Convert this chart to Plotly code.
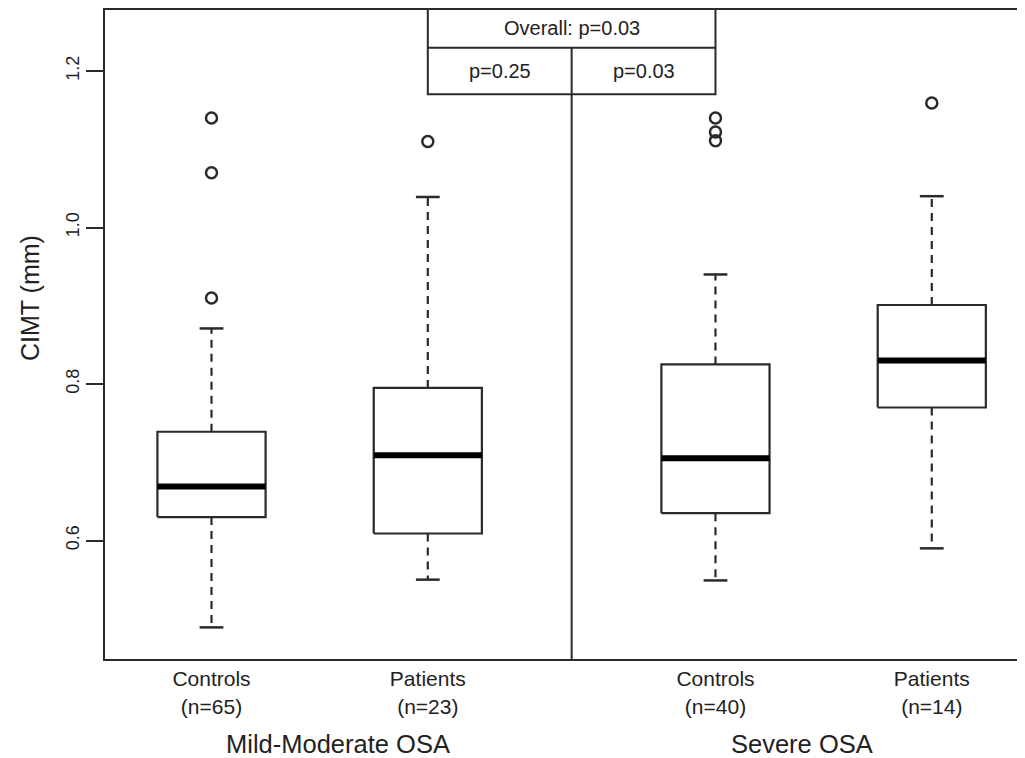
import plotly.graph_objects as go

# ---- data ----
groups = ["Mild-Moderate OSA", "Severe OSA"]
categories = ["Controls", "Patients", "Controls", "Patients"]
n_values = [65, 23, 40, 14]
q1 = [0.630, 0.609, 0.635, 0.770]
median = [0.669, 0.709, 0.705, 0.830]
q3 = [0.739, 0.795, 0.825, 0.901]
lower_whisker = [0.489, 0.550, 0.549, 0.590]
upper_whisker = [0.871, 1.039, 0.940, 1.040]
outliers = [[1.140, 1.070, 0.910], [1.110], [1.140, 1.122, 1.111], [1.159]]
p_overall = "0.03"
p_group = ["0.25", "0.03"]
y_ticks = [0.6, 0.8, 1.0, 1.2]

# ---- layout positions ----
positions = [1, 2, 3.33, 4.33]
group_label_x = [1.585, 3.73]
divider_x = 2.665
half_w = 0.25
cap_w = 0.055

FONT = "Liberation Sans, Arial, Helvetica, sans-serif"
LINE = "#2a2a2a"

fig = go.Figure()

for i, x in enumerate(positions):
    # box outline
    fig.add_trace(go.Scatter(
        x=[x - half_w, x + half_w, x + half_w, x - half_w, x - half_w],
        y=[q1[i], q1[i], q3[i], q3[i], q1[i]],
        mode="lines", line=dict(color=LINE, width=2.2),
        fill="toself", fillcolor="white", hoverinfo="skip", showlegend=False))
    # median
    fig.add_trace(go.Scatter(
        x=[x - half_w, x + half_w], y=[median[i], median[i]],
        mode="lines", line=dict(color="black", width=6),
        hoverinfo="skip", showlegend=False))
    # whiskers
    fig.add_trace(go.Scatter(
        x=[x, x, None, x, x],
        y=[q3[i], upper_whisker[i], None, q1[i], lower_whisker[i]],
        mode="lines", line=dict(color=LINE, width=2.2, dash="8px,6px"),
        hoverinfo="skip", showlegend=False))
    # caps
    fig.add_trace(go.Scatter(
        x=[x - cap_w, x + cap_w, None, x - cap_w, x + cap_w],
        y=[upper_whisker[i], upper_whisker[i], None, lower_whisker[i], lower_whisker[i]],
        mode="lines", line=dict(color=LINE, width=2.5),
        hoverinfo="skip", showlegend=False))
    # outliers
    fig.add_trace(go.Scatter(
        x=[x] * len(outliers[i]), y=outliers[i],
        mode="markers",
        marker=dict(symbol="circle-open", size=11, color=LINE, line=dict(width=2.5)),
        hoverinfo="skip", showlegend=False))

ticktext = [f"{c}<br>(n={n})" for c, n in zip(categories, n_values)]

# the page body adds an 8px offset, so the figure is 8px smaller than the window
fig.update_layout(
    width=1017, height=750,
    margin=dict(l=97, r=0, t=0, b=99),
    paper_bgcolor="white", plot_bgcolor="white",
    font=dict(family=FONT, color="#222"),
    xaxis=dict(range=[0.5076, 4.761], tickvals=positions, ticktext=ticktext,
               tickfont=dict(size=21), ticks="", showgrid=False, zeroline=False,
               showline=True, linecolor=LINE, linewidth=2, fixedrange=True),
    yaxis=dict(range=[0.4486, 1.2805], tickvals=y_ticks,
               ticktext=[f"{v:.1f}" for v in y_ticks],
               tickangle=-90, tickfont=dict(size=18), ticks="outside", ticklen=17,
               tickwidth=2, tickcolor=LINE, showgrid=False, zeroline=False,
               showline=True, linecolor=LINE, linewidth=2, fixedrange=True),
)

top_y = 1 - 1.0 / 651
# top frame line
fig.add_shape(type="line", xref="paper", yref="paper", x0=0, x1=1, y0=top_y, y1=top_y,
              line=dict(color=LINE, width=2))
# divider between groups
table_mid = 0.939
table_bottom = 0.8674
fig.add_shape(type="line", xref="x", yref="paper", x0=divider_x, x1=divider_x,
              y0=0, y1=table_mid, line=dict(color=LINE, width=2))
# p-value table
fig.add_shape(type="rect", xref="x", yref="paper", x0=positions[1], x1=positions[2],
              y0=table_bottom, y1=top_y, line=dict(color=LINE, width=2))
fig.add_shape(type="line", xref="x", yref="paper", x0=positions[1], x1=positions[2],
              y0=table_mid, y1=table_mid, line=dict(color=LINE, width=2))

fig.add_annotation(x=divider_x, xref="x", y=(1 + table_mid) / 2, yref="paper",
                   text=f"Overall: p={p_overall}", showarrow=False,
                   font=dict(size=20), xanchor="center", yanchor="middle")
cells = [(positions[1] + divider_x) / 2, (divider_x + positions[2]) / 2]
for cx, p in zip(cells, p_group):
    fig.add_annotation(x=cx, xref="x", y=(table_mid + table_bottom) / 2, yref="paper",
                       text=f"p={p}", showarrow=False, font=dict(size=20),
                       xanchor="center", yanchor="middle")

# group labels
for gx, g in zip(group_label_x, groups):
    fig.add_annotation(x=gx, xref="x", y=-0.1306, yref="paper", text=g,
                       showarrow=False, font=dict(size=25.5),
                       xanchor="center", yanchor="middle")

# y-axis title
fig.add_annotation(x=-0.0815, xref="paper", y=0.5545, yref="paper", text="CIMT (mm)",
                   showarrow=False, textangle=-90, font=dict(size=25),
                   xanchor="center", yanchor="middle")

fig.write_html("out.html")
